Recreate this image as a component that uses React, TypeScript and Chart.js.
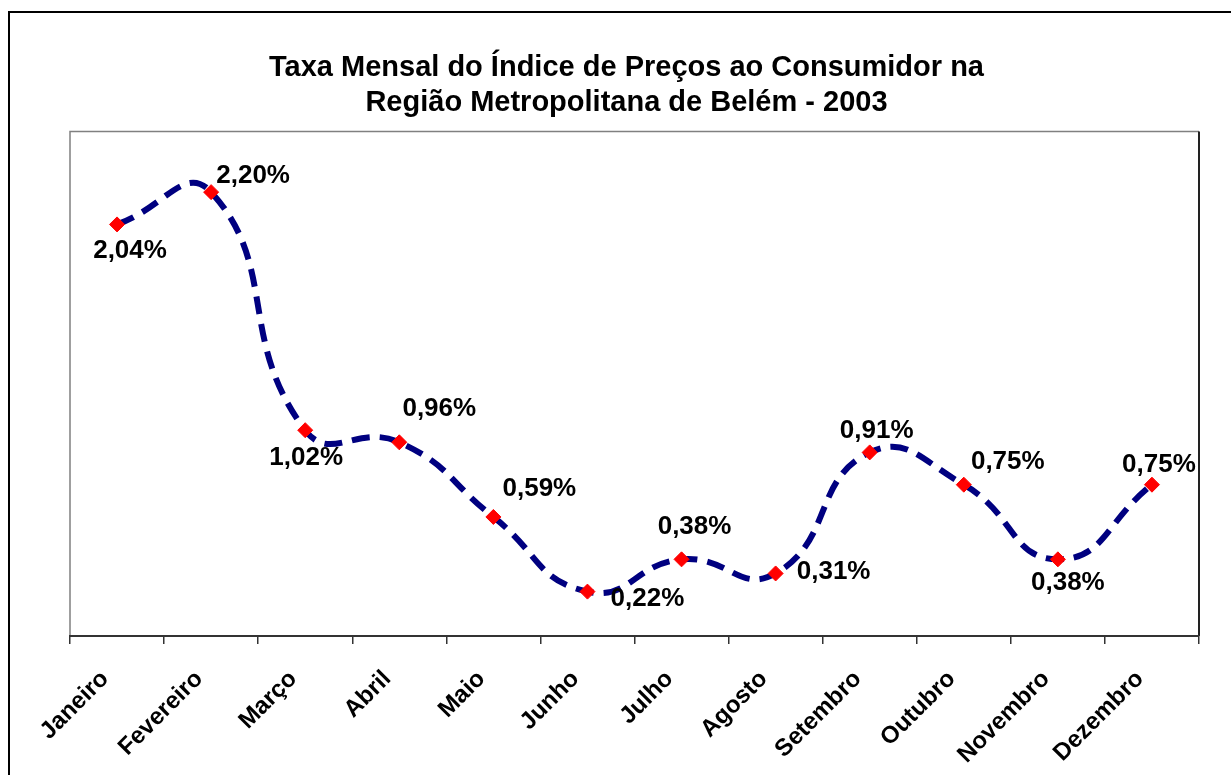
import React, { useEffect, useRef } from "react";
import { Chart, registerables } from "chart.js";

Chart.register(...registerables);

const months = [
  "Janeiro",
  "Fevereiro",
  "Março",
  "Abril",
  "Maio",
  "Junho",
  "Julho",
  "Agosto",
  "Setembro",
  "Outubro",
  "Novembro",
  "Dezembro",
];
const rates = [2.04, 2.2, 1.02, 0.96, 0.59, 0.22, 0.38, 0.31, 0.91, 0.75, 0.38, 0.75];
const valueLabels = rates.map((v) => v.toFixed(2).replace(".", ",") + "%");
const titleLines = [
  "Taxa Mensal do Índice de Preços ao Consumidor na",
  "Região Metropolitana de Belém - 2003",
];
// label placement relative to each marker (style, not data)
const labelOffsets: [number, number][] = [
  [13, 26],
  [42, -16],
  [1, 28],
  [40, -33],
  [46, -28],
  [60, 7],
  [13, -33],
  [58, -2],
  [7, -22],
  [44, -23],
  [10, 23],
  [7, -20],
];

const FONT = "'Liberation Sans', Arial, Helvetica, sans-serif";

const framePlugin = {
  id: "frame",
  beforeDraw(chart: any) {
    const { ctx, chartArea } = chart;
    ctx.save();
    ctx.fillStyle = "#ffffff";
    ctx.fillRect(0, 0, chart.width, chart.height);
    // outer border
    ctx.strokeStyle = "#000000";
    ctx.lineWidth = 2;
    ctx.strokeRect(9, 12, chart.width + 50, chart.height + 50);
    // plot area border
    const { left, right, top, bottom } = chartArea;
    ctx.lineWidth = 1.5;
    ctx.strokeStyle = "#808080";
    ctx.beginPath();
    ctx.moveTo(left, bottom);
    ctx.lineTo(left, top);
    ctx.lineTo(right, top);
    ctx.stroke();
    ctx.strokeStyle = "#222222";
    ctx.lineWidth = 2;
    ctx.beginPath();
    ctx.moveTo(right, top);
    ctx.lineTo(right, bottom);
    ctx.stroke();
    ctx.restore();
  },
};

const valueLabelPlugin = {
  id: "valueLabels",
  afterDatasetsDraw(chart: any) {
    const { ctx } = chart;
    const meta = chart.getDatasetMeta(0);
    ctx.save();
    ctx.font = `bold 26px ${FONT}`;
    ctx.fillStyle = "#000000";
    ctx.textAlign = "center";
    ctx.textBaseline = "middle";
    meta.data.forEach((pt: any, i: number) => {
      const [dx, dy] = labelOffsets[i];
      ctx.fillText(valueLabels[i], pt.x + dx, pt.y + dy);
    });
    ctx.restore();
  },
};

export default function App() {
  const canvasRef = useRef<HTMLCanvasElement | null>(null);

  useEffect(() => {
    document.body.style.margin = "0";
    document.body.style.overflow = "hidden";
    const canvas = canvasRef.current;
    if (!canvas) return;
    const chart = new Chart(canvas, {
      type: "line",
      data: {
        labels: months,
        datasets: [
          {
            data: rates,
            borderColor: "#000080",
            borderWidth: 6,
            borderDash: [18, 10],
            borderCapStyle: "butt",
            tension: 0.5,
            fill: false,
            pointStyle: "rectRot",
            pointRadius: 7.5,
            pointBackgroundColor: "#ff0000",
            pointBorderColor: "#ff0000",
            pointBorderWidth: 1,
            clip: false,
          },
        ],
      },
      options: {
        responsive: false,
        animation: false,
        devicePixelRatio: 1,
        layout: { padding: { left: 54, right: 32, top: 0, bottom: 0 } },
        plugins: {
          legend: { display: false },
          tooltip: { enabled: false },
          title: {
            display: true,
            text: titleLines,
            color: "#000000",
            font: { family: FONT, size: 29, weight: "bold", lineHeight: 1.2 },
            padding: { top: 51, bottom: 11 },
          },
        },
        scales: {
          x: {
            offset: true,
            grid: {
              display: true,
              offset: true,
              drawOnChartArea: false,
              drawTicks: true,
              tickLength: 8,
              color: "#333333",
              lineWidth: 1.5,
            },
            border: { display: true, color: "#333333", width: 2 },
            ticks: {
              autoSkip: false,
              minRotation: 45,
              maxRotation: 45,
              padding: 21,
              labelOffset: -12,
              color: "#000000",
              font: { family: FONT, size: 24, weight: "bold" },
            },
            afterFit: (scale: any) => {
              scale.height = 139;
            },
          },
          y: {
            display: true,
            min: 0,
            max: 2.5,
            grid: { display: false, drawTicks: false },
            border: { display: false },
            ticks: { display: false },
            afterFit: (scale: any) => {
              scale.width = 16;
            },
          },
        },
      },
      plugins: [framePlugin, valueLabelPlugin],
    });
    return () => chart.destroy();
  }, []);

  return (
    <div style={{ width: 1231, height: 775 }}>
      <canvas ref={canvasRef} width={1231} height={775} style={{ display: "block" }} />
    </div>
  );
}
